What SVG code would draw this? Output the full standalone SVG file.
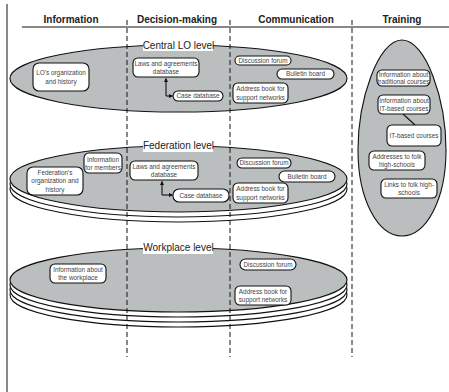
<svg xmlns="http://www.w3.org/2000/svg" width="449" height="392" viewBox="0 0 449 392">
<defs>
<style>
.hdr{font-family:"Liberation Sans",Arial,sans-serif;font-size:10px;font-weight:bold;fill:#222;text-anchor:middle}
.lvl{font-family:"Liberation Sans",Arial,sans-serif;font-size:10px;fill:#222;text-anchor:middle}
.t{font-family:"Liberation Sans",Arial,sans-serif;font-size:6.4px;fill:#444;text-anchor:middle}
.n{fill:#fff;stroke:#111;stroke-width:1.1}
.plate{fill:#babebf;stroke:#111;stroke-width:1.1}
.rim{fill:#fff;stroke:#111;stroke-width:1.1}
.dash{stroke:#111;stroke-width:1;stroke-dasharray:5,3;fill:none}
.con{stroke:#111;stroke-width:1.1;fill:none}
</style>
<marker id="ah" viewBox="0 0 10 10" refX="9" refY="5" markerWidth="4" markerHeight="4" orient="auto-start-reverse">
<path d="M0,0 L10,5 L0,10 z" fill="#111"/>
</marker>
</defs>
<rect width="449" height="392" fill="#fff"/>
<line x1="7" y1="4" x2="7" y2="392" stroke="#888" stroke-width="2"/>
<g id="headers">
<text class="hdr" x="71" y="23">Information</text>
<text class="hdr" x="177" y="23">Decision-making</text>
<text class="hdr" x="296" y="23">Communication</text>
<text class="hdr" x="402" y="23">Training</text>
<line x1="22" y1="27" x2="449" y2="27" stroke="#111" stroke-width="1"/>
</g>
<g id="workplace-level">
<ellipse class="rim" cx="178.5" cy="295" rx="168.5" ry="32"/>
<ellipse class="rim" cx="178.5" cy="290" rx="168.5" ry="32"/>
<ellipse class="rim" cx="178.5" cy="285" rx="168.5" ry="32"/>
<ellipse class="plate" cx="178.5" cy="280" rx="168.5" ry="32"/>
<rect x="143" y="242" width="70" height="12" fill="#fff"/>
<text class="lvl" x="178.5" y="251">Workplace level</text>
</g>
<g id="federation-level">
<ellipse class="rim" cx="178.5" cy="189" rx="168.5" ry="33"/>
<ellipse class="rim" cx="178.5" cy="184" rx="168.5" ry="33"/>
<ellipse class="plate" cx="178.5" cy="179" rx="168.5" ry="33"/>
<rect x="143" y="140" width="70" height="12" fill="#fff"/>
<text class="lvl" x="178.5" y="149">Federation level</text>
</g>
<g id="central-lo-level">
<ellipse class="plate" cx="178.5" cy="78.5" rx="168.5" ry="33.5"/>
<rect x="143" y="39" width="70" height="12" fill="#fff"/>
<text class="lvl" x="178.5" y="48.5">Central LO level</text>
</g>
<g id="training-area">
<path class="plate" d="M402,40 C426,40 446,100 446,150 C446,200 426,236 402,236 C378,236 358,200 358,150 C358,100 378,40 402,40 Z"/>
</g>
<g id="dividers">
<line class="dash" x1="127" y1="20" x2="127" y2="357"/>
<line class="dash" x1="230" y1="20" x2="230" y2="357"/>
<line class="dash" x1="352" y1="20" x2="352" y2="357"/>
</g>
<g id="connectors">
<path class="con" d="M166,96 L166,78.5" marker-end="url(#ah)"/>
<path class="con" d="M166,96 L172.5,96" marker-end="url(#ah)"/>
<path class="con" d="M162,195 L162,181.5" marker-end="url(#ah)"/>
<path class="con" d="M162,195 L172.5,195" marker-end="url(#ah)"/>
<line class="con" x1="403" y1="114" x2="415" y2="125"/>
</g>
<g id="c-lo-org"><rect class="n" x="33" y="63" width="56" height="28" rx="6"/><text class="t" x="61" y="75">LO's organization</text><text class="t" x="61" y="83.5">and history</text></g>
<g id="c-laws"><rect class="n" x="133" y="58" width="66" height="19" rx="5"/><text class="t" x="166" y="65.5">Laws and agreements</text><text class="t" x="166" y="73.5">database</text></g>
<g id="c-case"><rect class="n" x="173" y="91" width="50" height="10" rx="5"/><text class="t" x="198" y="98.3">Case database</text></g>
<g id="c-forum"><rect class="n" x="235" y="56" width="56" height="9" rx="4.5"/><text class="t" x="263" y="62.8">Discussion forum</text></g>
<g id="c-bulletin"><rect class="n" x="277" y="69" width="57" height="10" rx="5"/><text class="t" x="305.5" y="76.3">Bulletin board</text></g>
<g id="c-address"><rect class="n" x="233" y="83" width="55" height="20" rx="5"/><text class="t" x="260.5" y="91">Address book for</text><text class="t" x="260.5" y="99.5">support networks</text></g>
<g id="f-org"><rect class="n" x="27" y="167" width="56" height="28" rx="6"/><text class="t" x="55" y="175">Federation's</text><text class="t" x="55" y="183.3">organization and</text><text class="t" x="55" y="191.6">history</text></g>
<g id="f-members"><rect class="n" x="84" y="153" width="38" height="20" rx="5"/><text class="t" x="103" y="161.5">Information</text><text class="t" x="103" y="169.5">for members</text></g>
<g id="f-laws"><rect class="n" x="130" y="161" width="68" height="19" rx="5"/><text class="t" x="164" y="168.5">Laws and agreements</text><text class="t" x="164" y="176.5">database</text></g>
<g id="f-case"><rect class="n" x="173" y="189" width="56" height="13" rx="6"/><text class="t" x="201" y="197.8">Case database</text></g>
<g id="f-forum"><rect class="n" x="237" y="158" width="54" height="10" rx="5"/><text class="t" x="264" y="165.3">Discussion forum</text></g>
<g id="f-bulletin"><rect class="n" x="279" y="171" width="56" height="11" rx="5.5"/><text class="t" x="307" y="178.8">Bulletin board</text></g>
<g id="f-address"><rect class="n" x="233" y="183" width="55" height="20" rx="5"/><text class="t" x="260.5" y="191.2">Address book for</text><text class="t" x="260.5" y="199.7">support networks</text></g>
<g id="w-info"><rect class="n" x="50" y="264" width="56" height="19" rx="5"/><text class="t" x="78" y="271.5">Information about</text><text class="t" x="78" y="279.5">the workplace</text></g>
<g id="w-forum"><rect class="n" x="240" y="259" width="56" height="11" rx="5.5"/><text class="t" x="268" y="266.8">Discussion forum</text></g>
<g id="w-address"><rect class="n" x="235" y="286" width="56" height="19" rx="5"/><text class="t" x="263" y="293.7">Address book for</text><text class="t" x="263" y="302">support networks</text></g>
<g id="t-trad"><rect class="n" x="377" y="70" width="53" height="16" rx="5"/><text class="t" x="403.5" y="76.8">Information about</text><text class="t" x="403.5" y="84.3">traditional courses</text></g>
<g id="t-itinfo"><rect class="n" x="378" y="95" width="52" height="19" rx="5"/><text class="t" x="404" y="102.5">Information about</text><text class="t" x="404" y="111">IT-based courses</text></g>
<g id="t-it"><rect class="n" x="387" y="125" width="54" height="21" rx="5"/><text class="t" x="414" y="137.5">IT-based courses</text></g>
<g id="t-addresses"><rect class="n" x="369" y="151" width="56" height="19" rx="5"/><text class="t" x="397" y="158.7">Addresses to folk</text><text class="t" x="397" y="167">high-schools</text></g>
<g id="t-links"><rect class="n" x="381" y="179" width="56" height="19" rx="5"/><text class="t" x="409" y="186.7">Links to folk high-</text><text class="t" x="409" y="195">schools</text></g>
</svg>
